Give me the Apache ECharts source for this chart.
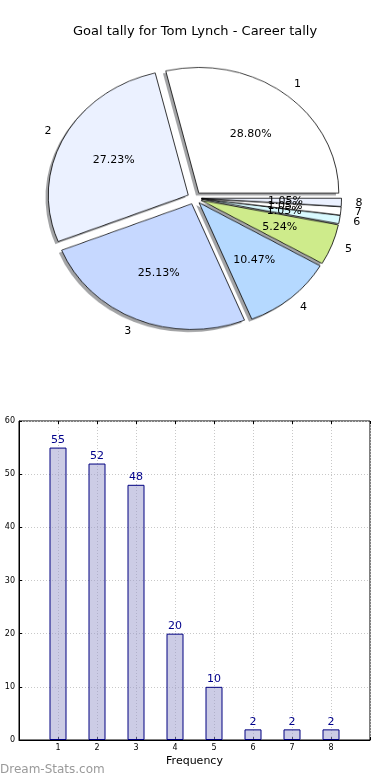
<!DOCTYPE html>
<html><head><meta charset="utf-8">
<script src="https://cdn.jsdelivr.net/npm/echarts@6/dist/echarts.min.js"></script>
<style>
html,body{margin:0;padding:0;background:#fff}
#wrap{position:relative;width:390px;height:780px}
#pie{position:absolute;left:0;top:0;width:390px;height:400px;transform:scaleY(0.898);transform-origin:0 198px}
#c{position:absolute;left:0;top:0;width:390px;height:780px}
</style>
</head><body><div id="wrap"><div id="pie"></div><div id="c"></div></div>
<script>
var categories = ['1','2','3','4','5','6','7','8'];
var goals = [55, 52, 48, 20, 10, 2, 2, 2];
var sliceColors = ['#FFFFFF','#EBF1FF','#C6D8FF','#B5D9FF','#CEEB8B','#D9FAFF','#FFFFFF','#EBF1FF'];
var yTicks = [0, 10, 20, 30, 40, 50, 60];

var total = goals.reduce(function(a,b){return a+b;},0);
var FONT = 'DejaVu Sans';
var CX = 194.5, CY = 198, R = 140, OFF = 7, K = 0.898;
var PCT_DIST = 0.6, LABEL_DIST = 1.1;

// ---------- pie wedges (drawn in a vertically squeezed layer -> elliptical pie) ----------
var pieChart = echarts.init(document.getElementById('pie'), null, {renderer:'canvas'});
var common = {type:'pie', radius:[0,R], startAngle:0, clockwise:false, selectedMode:'multiple',
  selectedOffset:OFF, animation:false, label:{show:false}, labelLine:{show:false}, emphasis:{disabled:true}};
pieChart.setOption({
  animation:false,
  series:[
    Object.assign({}, common, {center:[CX-2.8, CY+2.8], silent:true, z:1,
      data:categories.map(function(c,i){return {name:c, value:goals[i], selected:true};}),
      itemStyle:{color:'rgba(72,74,77,0.5)', borderWidth:0}}),
    Object.assign({}, common, {center:[CX, CY], z:2,
      data:categories.map(function(c,i){return {name:c, value:goals[i], selected:true, itemStyle:{color:sliceColors[i]}};}),
      itemStyle:{borderColor:'#000', borderWidth:0.8}})
  ]
});

// ---------- labels, title and bar chart ----------
function mkLayout(kind){
  var dist = (kind === 'out' ? LABEL_DIST : PCT_DIST) * R + OFF;
  return function(p){
    var r = p.labelRect;
    var dx = r.x + r.width/2 - CX, dy = r.y + r.height/2 - CY;
    var d = Math.sqrt(dx*dx + dy*dy) || 1;
    var ux = dx/d, uy = dy/d;
    return {x: CX + ux*dist, y: CY + uy*dist*K,
      align: kind === 'out' ? (ux >= 0 ? 'left' : 'right') : 'center',
      verticalAlign:'middle', hideOverlap:false};
  };
}
function ghostData(){
  return categories.map(function(c,i){return {name:c, value:goals[i], itemStyle:{color:'rgba(0,0,0,0)'}};});
}
var ghost = {type:'pie', center:[CX,CY], startAngle:0, clockwise:false, silent:true, animation:false,
  avoidLabelOverlap:false, labelLine:{show:false}, emphasis:{disabled:true}, itemStyle:{borderWidth:0}, z:5};

var chart = echarts.init(document.getElementById('c'), null, {renderer:'canvas'});
chart.setOption({
  animation:false,
  backgroundColor:'transparent',
  title:{text:'Goal tally for Tom Lynch - Career tally', left:'center', top:20,
    textStyle:{fontFamily:FONT, fontSize:13, fontWeight:'normal', color:'#000'}},
  graphic:[{type:'text', left:0, top:764, style:{text:'Dream-Stats.com', fontFamily:FONT, fontSize:12, fontWeight:'normal', fill:'#9a9a9a'}}],
  grid:{left:19, right:20, top:421, bottom:40, show:true, borderColor:'#000', borderWidth:1},
  xAxis:[{type:'value', min:0, max:9, interval:1, name:'Frequency', nameLocation:'middle', nameGap:16,
      nameTextStyle:{fontFamily:FONT, fontSize:11, color:'#000'},
      axisLine:{show:true, lineStyle:{color:'#000'}},
      axisTick:{show:true, inside:true, length:3, lineStyle:{color:'#000'}},
      axisLabel:{fontFamily:FONT, fontSize:8, color:'#000', margin:4,
        formatter:function(v){return (v>=1&&v<=8)?categories[v-1]:'';}},
      splitLine:{show:true, lineStyle:{color:'#c8c8c8', type:[1,2]}}},
    {type:'value', position:'top', min:0, max:9, interval:1,
      axisLine:{show:false}, axisLabel:{show:false},
      axisTick:{show:true, inside:true, length:3, lineStyle:{color:'#000'}}, splitLine:{show:false}}],
  yAxis:{type:'value', min:0, max:60, interval:10,
    axisLine:{show:true, lineStyle:{color:'#000'}},
    axisTick:{show:true, inside:true, length:3, lineStyle:{color:'#000'}},
    axisLabel:{fontFamily:FONT, fontSize:8, color:'#000', margin:4,
      formatter:function(v){return yTicks.indexOf(v)>=0?String(v):'';}},
    splitLine:{show:true, lineStyle:{color:'#c8c8c8', type:[1,2]}}},
  series:[
    Object.assign({}, ghost, {radius:[0, R*PCT_DIST*2], data:ghostData(), labelLayout:mkLayout('in'),
      label:{show:true, position:'inside', fontFamily:FONT, fontSize:11, color:'#000',
        formatter:function(p){return (p.value/total*100).toFixed(2)+'%';}}}),
    Object.assign({}, ghost, {radius:[0, R*LABEL_DIST*2], data:ghostData(), labelLayout:mkLayout('out'),
      label:{show:true, position:'inside', fontFamily:FONT, fontSize:11, color:'#000',
        formatter:function(p){return p.name;}}}),
    {type:'bar', xAxisIndex:0, yAxisIndex:0, barWidth:17, animation:false,
      data:categories.map(function(c,i){return [Number(c), goals[i]];}),
      itemStyle:{color:'rgba(153,153,204,0.5)', borderColor:'#000080', borderWidth:1},
      label:{show:true, position:'top', distance:2, fontFamily:FONT, fontSize:11, color:'#00008B'}}
  ]
});
</script></body></html>
